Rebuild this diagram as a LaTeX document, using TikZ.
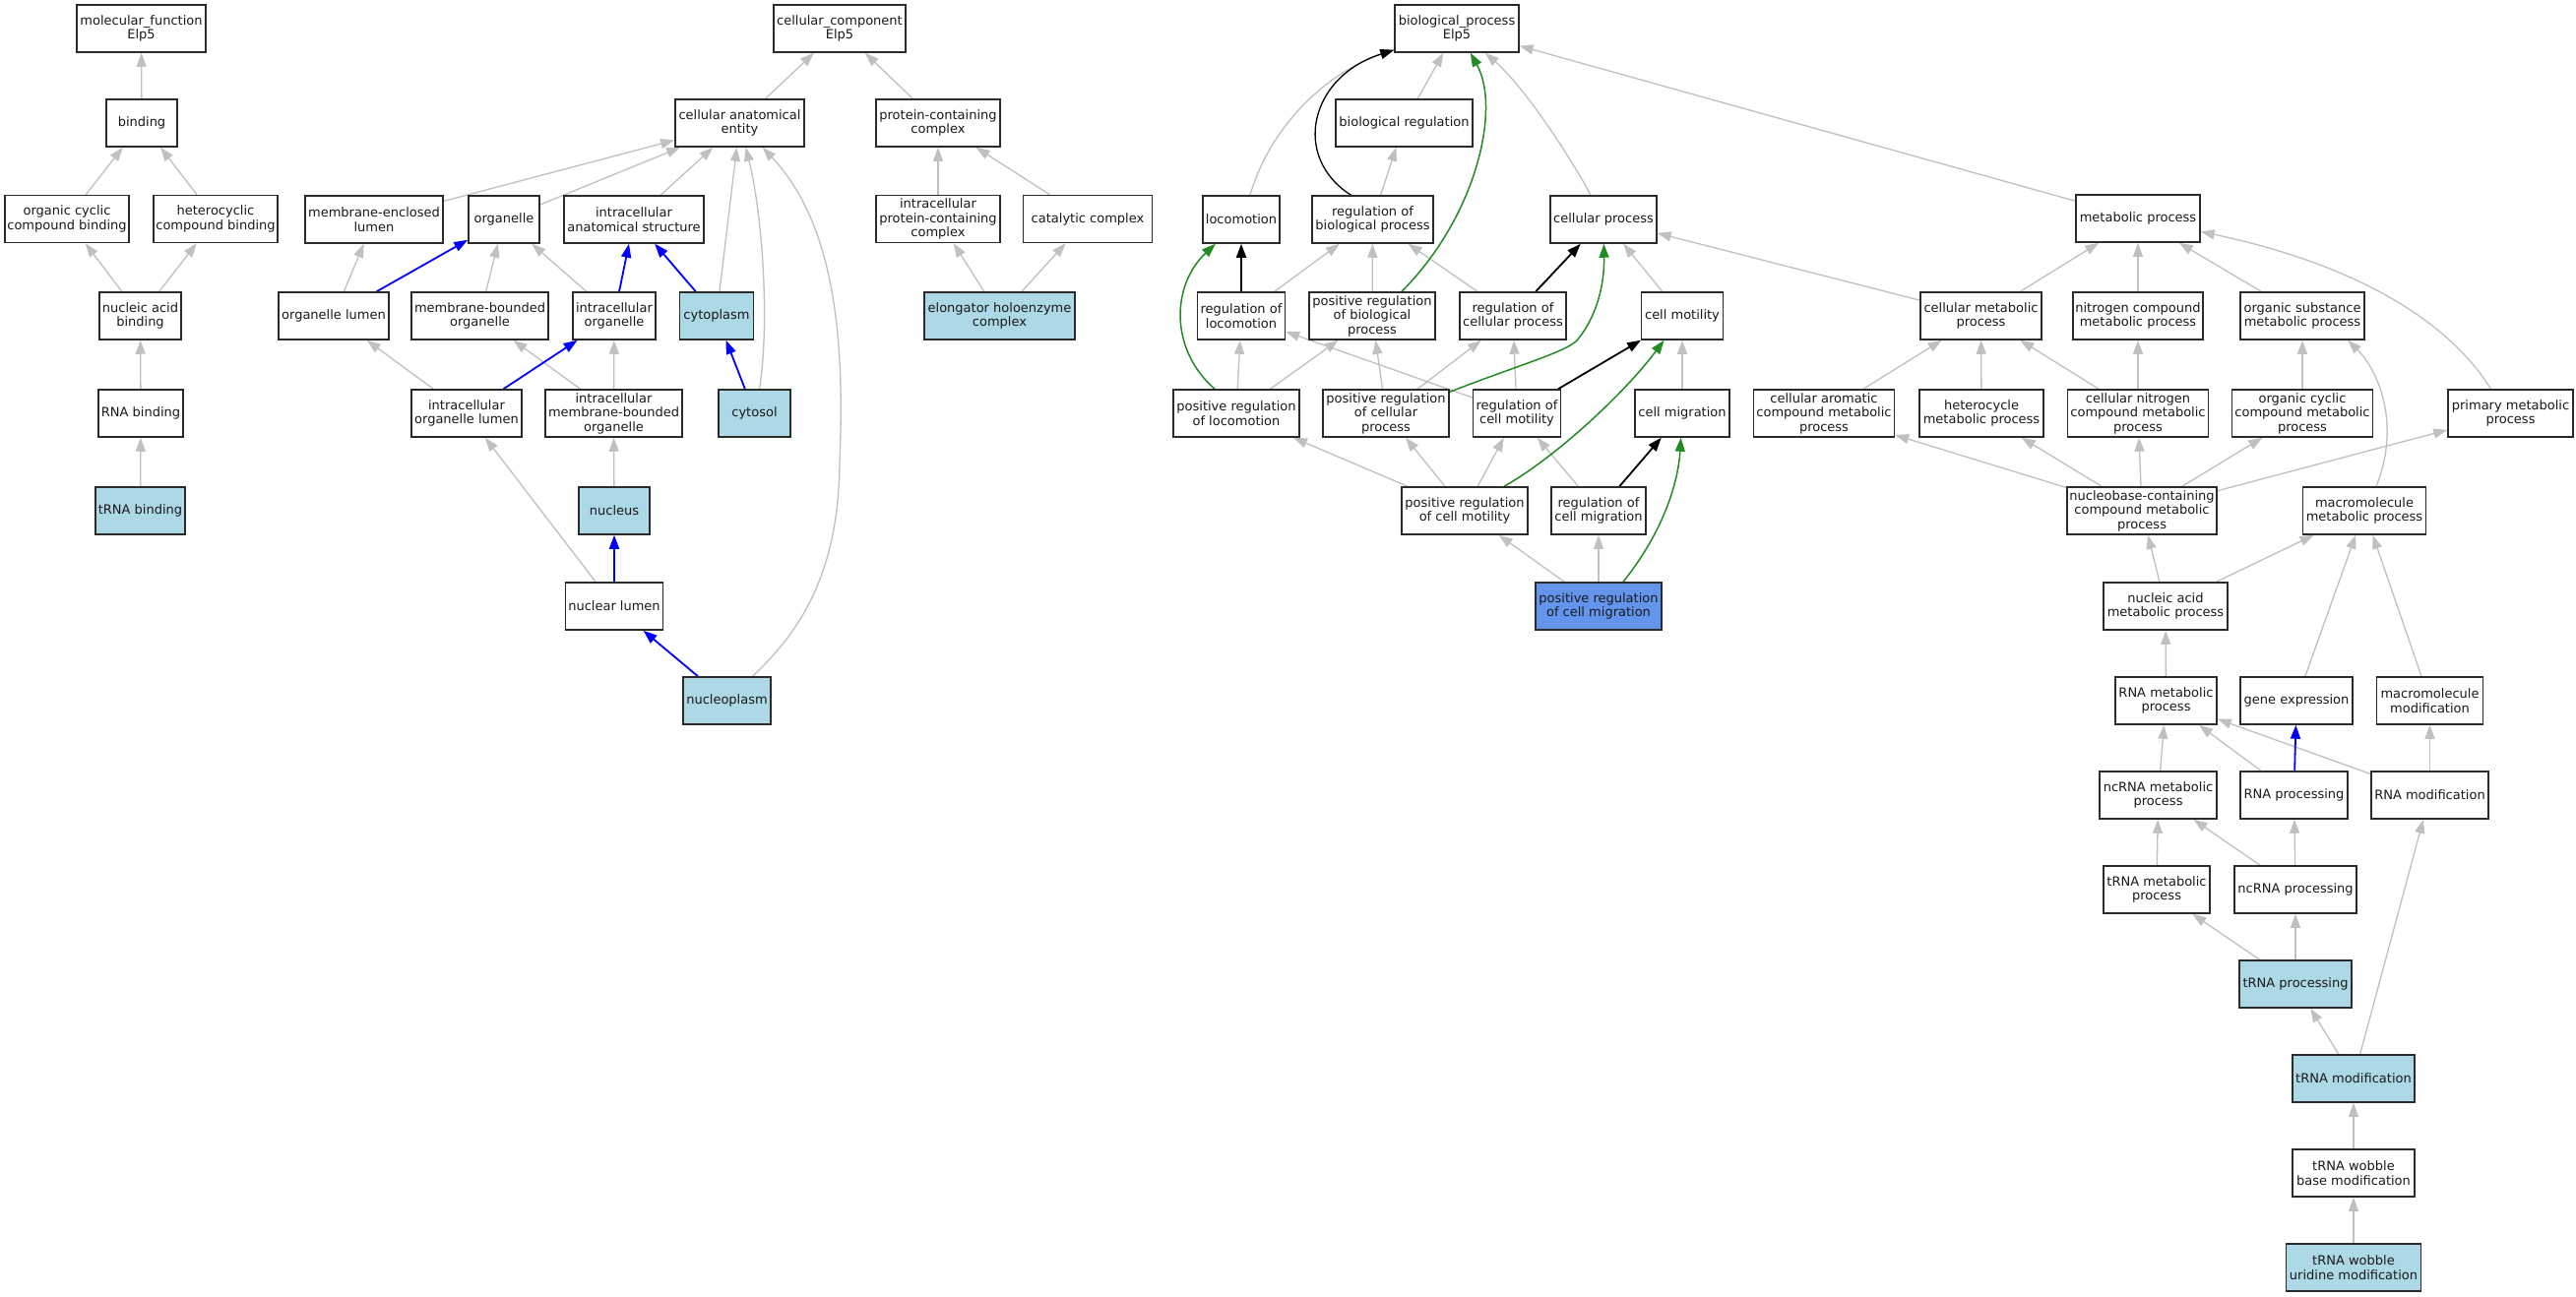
\documentclass[tikz,border=0pt]{standalone}
\usepackage{fontspec}
\setmainfont{DejaVu Sans}
\usetikzlibrary{arrows.meta,calc}
\definecolor{edgegray}{HTML}{C0C0C0}
\definecolor{hlblue}{HTML}{ADD8E6}
\definecolor{selblue}{HTML}{6495ED}
\definecolor{fgreen}{HTML}{228B22}
\definecolor{boxline}{HTML}{2B2B2B}
\pgfdeclarelayer{bg}
\pgfsetlayers{bg,main}
\tikzset{
  box/.style={draw=boxline, line width=1.5pt, fill=white, rectangle, minimum height=48pt,
    inner xsep=0pt, inner ysep=0pt, align=center, text=black!90,
    font=\fontsize{13}{14.5}\selectfont},
  hl/.style={box, fill=hlblue},
  sel/.style={box, fill=selblue},
  tip/.style={-{Triangle[length=14pt,width=10pt]}},
  isa/.style={tip, draw=edgegray, line width=1.3pt},
  blu/.style={tip, draw=blue, line width=1.8pt},
  blk/.style={tip, draw=black, line width=1.8pt},
  blkthin/.style={tip, draw=black, line width=1.3pt},
  grn/.style={tip, draw=fgreen, line width=1.5pt},
}
\begin{document}
\begin{tikzpicture}[x=1pt,y=-1pt]
\useasboundingbox (0,0) rectangle (2617,1317);

% ---------- molecular function ----------
\node[box, minimum width=131pt] (mf) at (143.5,29) {molecular\_function\\Elp5};
\node[box, minimum width=72pt] (bind) at (144,125) {binding};
\node[box, minimum width=126pt] (ocb) at (68,222.5) {organic cyclic\\compound binding};
\node[box, minimum width=126pt] (hcb) at (219,222.5) {heterocyclic\\compound binding};
\node[box, minimum width=83pt] (nab) at (142.5,321) {nucleic acid\\binding};
\node[box, minimum width=86pt] (rnab) at (143,420) {RNA binding};
\node[hl, minimum width=91pt] (trnab) at (142.5,519) {tRNA binding};

% ---------- cellular component ----------
\node[box, minimum width=134pt] (cc) at (853,29) {cellular\_component\\Elp5};
\node[box, minimum width=131pt] (cae) at (751.5,125) {cellular anatomical\\entity};
\node[box, minimum width=126pt] (pcc) at (953,125) {protein-containing\\complex};
\node[box, minimum width=140pt] (mel) at (380,223) {membrane-enclosed\\lumen};
\node[box, minimum width=72pt] (org) at (512,223) {organelle};
\node[box, minimum width=142pt] (ias) at (644,223) {intracellular\\anatomical structure};
\node[box, minimum width=126pt] (ipcc) at (953,222.5) {intracellular\\protein-containing\\complex};
\node[box, minimum width=131pt] (cat) at (1105,222.5) {catalytic complex};
\node[box, minimum width=112pt] (ol) at (339,321) {organelle lumen};
\node[box, minimum width=139pt] (mbo) at (487.5,321) {membrane-bounded\\organelle};
\node[box, minimum width=84pt] (io) at (624,321) {intracellular\\organelle};
\node[hl, minimum width=75pt] (cyto) at (728,321) {cytoplasm};
\node[hl, minimum width=153pt] (eh) at (1015.5,321) {elongator holoenzyme\\complex};
\node[box, minimum width=112pt] (iol) at (474,420) {intracellular\\organelle lumen};
\node[box, minimum width=139pt] (imbo) at (623.5,420) {intracellular\\membrane-bounded\\organelle};
\node[hl, minimum width=73pt] (cytosol) at (766.5,420) {cytosol};
\node[hl, minimum width=72pt] (nuc) at (624,519) {nucleus};
\node[box, minimum width=99pt] (nl) at (624,616) {nuclear lumen};
\node[hl, minimum width=89pt] (np) at (738.5,712) {nucleoplasm};

% ---------- biological process ----------
\node[box, minimum width=126pt] (bp) at (1480,29) {biological\_process\\Elp5};
\node[box, minimum width=139pt] (breg) at (1426.5,125) {biological regulation};
\node[box, minimum width=78pt] (loc) at (1261,223) {locomotion};
\node[box, minimum width=123pt] (rbp) at (1394.5,223) {regulation of\\biological process};
\node[box, minimum width=108pt] (cp) at (1629,223) {cellular process};
\node[box, minimum width=126pt] (mp) at (2172,222) {metabolic process};
\node[box, minimum width=89pt] (rl) at (1261,321) {regulation of\\locomotion};
\node[box, minimum width=128pt] (prbp) at (1394,321) {positive regulation\\of biological\\process};
\node[box, minimum width=108pt] (rcp) at (1537,321) {regulation of\\cellular process};
\node[box, minimum width=83pt] (cm) at (1709,321) {cell motility};
\node[box, minimum width=123pt] (cmp) at (2012.5,321) {cellular metabolic\\process};
\node[box, minimum width=132pt] (ncmp) at (2172,321) {nitrogen compound\\metabolic process};
\node[box, minimum width=126pt] (osmp) at (2339,321) {organic substance\\metabolic process};
\node[box, minimum width=128pt] (prl) at (1256,420) {positive regulation\\of locomotion};
\node[box, minimum width=128pt] (prcp) at (1408,420) {positive regulation\\of cellular\\process};
\node[box, minimum width=89pt] (rcm) at (1541,420) {regulation of\\cell motility};
\node[box, minimum width=96pt] (cmig) at (1709,420) {cell migration};
\node[box, minimum width=143pt] (cacmp) at (1853,420) {cellular aromatic\\compound metabolic\\process};
\node[box, minimum width=126pt] (hmp) at (2013,420) {heterocycle\\metabolic process};
\node[box, minimum width=143pt] (cncmp) at (2172,420) {cellular nitrogen\\compound metabolic\\process};
\node[box, minimum width=143pt] (occmp) at (2339,420) {organic cyclic\\compound metabolic\\process};
\node[box, minimum width=127pt] (pmp) at (2550.5,420) {primary metabolic\\process};
\node[box, minimum width=128pt] (prcm) at (1488,519) {positive regulation\\of cell motility};
\node[box, minimum width=96pt] (rcmig) at (1624,519) {regulation of\\cell migration};
\node[box, minimum width=152pt] (nbc) at (2176,519) {nucleobase-containing\\compound metabolic\\process};
\node[box, minimum width=125pt] (mmp) at (2402,519) {macromolecule\\metabolic process};
\node[sel, minimum width=128pt] (prcmig) at (1624,616) {positive regulation\\of cell migration};
\node[box, minimum width=126pt] (namp) at (2200,616) {nucleic acid\\metabolic process};
\node[box, minimum width=103pt] (rnamp) at (2200.5,712) {RNA metabolic\\process};
\node[box, minimum width=114pt] (ge) at (2333,712) {gene expression};
\node[box, minimum width=108pt] (mmod) at (2468.5,712) {macromolecule\\modification};
\node[box, minimum width=119pt] (ncrmp) at (2192.5,808) {ncRNA metabolic\\process};
\node[box, minimum width=109pt] (rproc) at (2330.5,808) {RNA processing};
\node[box, minimum width=119pt] (rmod) at (2468.5,808) {RNA modification};
\node[box, minimum width=108pt] (tmp) at (2191,904) {tRNA metabolic\\process};
\node[box, minimum width=124pt] (ncproc) at (2332,904) {ncRNA processing};
\node[hl, minimum width=114pt] (tproc) at (2332,1000) {tRNA processing};
\node[hl, minimum width=124pt] (tmod) at (2391,1096) {tRNA modification};
\node[box, minimum width=124pt] (twb) at (2391,1192) {tRNA wobble\\base modification};
\node[hl, minimum width=137pt] (twu) at (2391,1288) {tRNA wobble\\uridine modification};

\begin{pgfonlayer}{bg}
\fill[white] (0,0) rectangle (2617,1317);
% molecular function
\draw[isa] (bind) -- (mf);
\draw[isa] (ocb) -- (bind);
\draw[isa] (hcb) -- (bind);
\draw[isa] (nab) -- (ocb);
\draw[isa] (nab) -- (hcb);
\draw[isa] (rnab) -- (nab);
\draw[isa] (trnab) -- (rnab);

% cellular component
\draw[isa] (cae) -- (cc);
\draw[isa] (pcc) -- (cc);
\draw[isa] (mel) -- (cae);
\draw[isa] (org) -- (cae);
\draw[isa] (ias) -- (cae);
\draw[isa] (cyto) -- (cae);
\draw[isa] ($(cytosol.north)+(5,0)$) .. controls (782,330) and (775,220) .. (cae);
\draw[isa] ($(np.north)+(26,0)$) .. controls (815,640) and (852,580) .. (853,470)
   .. controls (858,350) and (850,230) .. (cae);
\draw[isa] (ol) -- (mel);
\draw[isa] (mbo) -- (org);
\draw[isa] (io) -- (org);
\draw[isa] (iol) -- (ol);
\draw[isa] (imbo) -- (mbo);
\draw[isa] (imbo) -- (io);
\draw[isa] (nuc) -- (imbo);
\draw[isa] (nl) -- (iol);
\draw[isa] (ipcc) -- (pcc);
\draw[isa] (cat) -- (pcc);
\draw[isa] (eh) -- (ipcc);
\draw[isa] (eh) -- (cat);
\draw[blu] (ol) -- (org);
\draw[blu] (io) -- (ias);
\draw[blu] (cyto) -- (ias);
\draw[blu] (cytosol) -- (cyto);
\draw[blu] (iol) -- (io);
\draw[blu] (nl) -- (nuc);
\draw[blu] (np) -- (nl);

% biological process
\draw[isa] (breg) -- (bp);
\draw[isa] ($(loc.north)+(9,0)$) .. controls (1290,130) and (1345,75) .. (bp);
\draw[isa] ($(cp.north)+(-13,0)$) .. controls (1590,150) and (1545,85) .. (bp);
\draw[isa] (mp) -- (bp);
\draw[isa] (rbp) -- (breg);
\draw[isa] (rl) -- (rbp);
\draw[isa] (prbp) -- (rbp);
\draw[isa] (rcp) -- (rbp);
\draw[isa] (cm) -- (cp);
\draw[isa] (cmp) -- (cp);
\draw[isa] (prl) -- (rl);
\draw[isa] (prl) -- (prbp);
\draw[isa] (prcp) -- (prbp);
\draw[isa] (prcp) -- (rcp);
\draw[isa] (rcm) -- (rl);
\draw[isa] (rcm) -- (rcp);
\draw[isa] (cmig) -- (cm);
\draw[isa] (prcm) -- (prl);
\draw[isa] (prcm) -- (prcp);
\draw[isa] (prcm) -- (rcm);
\draw[isa] (rcmig) -- (rcm);
\draw[isa] (prcmig) -- (prcm);
\draw[isa] (prcmig) -- (rcmig);
\draw[blkthin] ($(rbp.north)+(-22,0)$) .. controls (1312,160) and (1330,78) .. ($(bp.south west)+(0,-3)$);
\draw[blk] (rl) -- (loc);
\draw[blk] (rcp) -- (cp);
\draw[blk] (rcm) -- (cm);
\draw[blk] (rcmig) -- (cmig);
\draw[grn] ($(prbp.north)+(30,0)$) .. controls (1500,220) and (1525,110) .. (bp);
\draw[grn] ($(prl.north)+(-22,0)$) .. controls (1188,355) and (1190,290) .. (loc);
\draw[grn] ($(prcp.north east)+(0,3)$) .. controls (1540,372) and (1590,358) .. (1602,346)
   .. controls (1622,322) and (1630,290) .. (cp);
\draw[grn] ($(prcm.north)+(40,0)$) .. controls (1580,465) and (1650,400) .. (cm);
\draw[grn] ($(prcmig.north)+(25,0)$) .. controls (1690,540) and (1705,490) .. (cmig);

% metabolic branch
\draw[isa] (cmp) -- (mp);
\draw[isa] (ncmp) -- (mp);
\draw[isa] (osmp) -- (mp);
\draw[isa] ($(pmp.north)+(-20,0)$) .. controls (2490,330) and (2400,270) .. (mp);
\draw[isa] (cacmp) -- (cmp);
\draw[isa] (hmp) -- (cmp);
\draw[isa] (cncmp) -- (cmp);
\draw[isa] (cncmp) -- (ncmp);
\draw[isa] (occmp) -- (osmp);
\draw[isa] ($(mmp.north)+(12,0)$) .. controls (2440,430) and (2415,375) .. ($(osmp.south)+(46,0)$);
\draw[isa] (nbc) -- (cacmp);
\draw[isa] (nbc) -- (hmp);
\draw[isa] (nbc) -- (cncmp);
\draw[isa] (nbc) -- (occmp);
\draw[isa] (nbc) -- (pmp);
\draw[isa] (namp) -- (nbc);
\draw[isa] (namp) -- (mmp);
\draw[isa] (rnamp) -- (namp);
\draw[isa] (ge) -- (mmp);
\draw[isa] (mmod) -- (mmp);
\draw[isa] (ncrmp) -- (rnamp);
\draw[isa] (rproc) -- (rnamp);
\draw[isa] (rmod) -- (rnamp);
\draw[isa] (rmod) -- (mmod);
\draw[isa] (tmp) -- (ncrmp);
\draw[isa] (ncproc) -- (ncrmp);
\draw[isa] (ncproc) -- (rproc);
\draw[isa] (tproc) -- (tmp);
\draw[isa] (tproc) -- (ncproc);
\draw[isa] (tmod) -- (tproc);
\draw[isa] (tmod) -- (rmod);
\draw[isa] (twb) -- (tmod);
\draw[isa] (twu) -- (twb);
\draw[blu] (rproc) -- (ge);
\end{pgfonlayer}
\end{tikzpicture}
\end{document}
